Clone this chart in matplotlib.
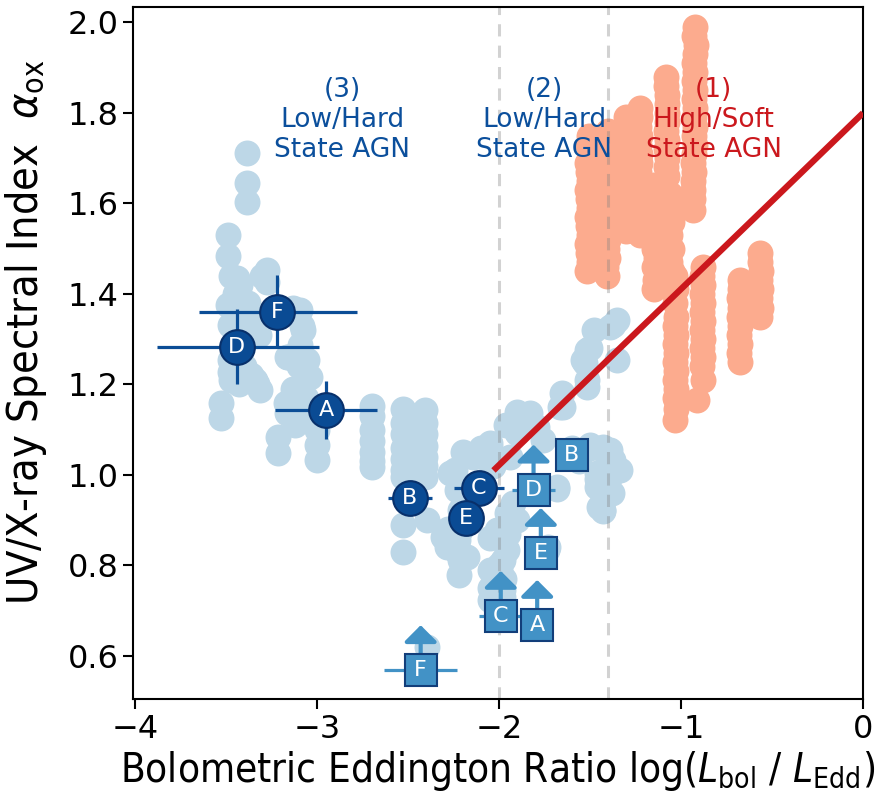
import matplotlib
matplotlib.use('Agg')
import matplotlib.pyplot as plt

plt.rcParams['font.family'] = ['DejaVu Sans']
plt.rcParams['mathtext.fontset'] = 'custom'
plt.rcParams['mathtext.rm'] = 'DejaVu Sans:stretch=condensed'
plt.rcParams['mathtext.it'] = 'DejaVu Sans:italic:stretch=condensed'

# low/hard state AGN sample (light blue)
low_x = [-3.385, -3.385, -3.385, -3.489, -3.489, -3.440, -3.440, -3.275, -3.275,
         -3.489, -3.451, -3.478, -3.434, -3.467, -3.423, -3.478, -3.434, -3.478,
         -3.313, -3.341, -3.093, -3.077, -3.093, -3.165, -3.055, -3.038, -3.110,
         -3.165, -3.527, -3.527, -3.214, -3.214, -3.000, -3.000, -3.000,
         -3.470, -3.420, -3.450, -3.380, -3.360, -3.320, -3.400, -3.450, -3.400,
         -3.360, -3.330, -3.430, -3.470, -3.300, -3.130, -3.080, -3.160, -3.100,
         -3.070, -3.130, -3.060, -3.170, -3.120, -3.040,
         -2.698, -2.698, -2.698, -2.698, -2.698, -2.698, -2.698,
         -2.527, -2.527, -2.527, -2.527, -2.527, -2.527, -2.527,
         -2.407, -2.407, -2.407, -2.407, -2.407, -2.407, -2.407,
         -2.269, -2.527, -2.527, -2.396, -2.308, -2.242, -2.231, -2.214, -2.225,
         -2.214, -2.049, -2.143, -1.978, -1.978, -2.049, -2.176, -2.286,
         -2.280, -2.220, -2.200, -2.100, -2.030, -2.230, -2.210,
         -2.050, -1.950, -2.000, -1.970, -2.030, -2.050, -1.980,
         -1.374, -1.516, -1.527, -1.352, -1.516, -1.654, -1.665, -1.830, -1.885,
         -1.901, -1.791, -1.758, -2.049, -2.088, -1.940, -1.429, -1.374, -1.462,
         -1.374, -1.462, -1.429, -1.429, -1.681, -1.923, -1.956, -1.390, -1.352,
         -1.538, -1.516, -1.648, -2.011, -1.956, -1.995, -1.978, -1.901, -1.736,
         -2.396, -1.500, -1.390, -1.335, -2.049,
         -1.480, -1.500, -1.960, -1.900, -1.500, -1.420, -1.370, -1.460, -1.380,
         -1.430, -1.450, -1.680, -1.730, -1.600, -1.560]
low_y = [1.712, 1.646, 1.604, 1.531, 1.485, 1.436, 1.409, 1.454, 1.427,
         1.376, 1.365, 1.332, 1.321, 1.288, 1.277, 1.255, 1.228, 1.228,
         1.188, 1.210, 1.365, 1.321, 1.288, 1.261, 1.255, 1.217, 1.173,
         1.138, 1.159, 1.126, 1.084, 1.049, 1.100, 1.067, 1.033,
         1.440, 1.420, 1.400, 1.380, 1.340, 1.310, 1.300, 1.250, 1.240,
         1.220, 1.200, 1.200, 1.210, 1.440, 1.370, 1.330, 1.260, 1.240,
         1.210, 1.190, 1.170, 1.160, 1.110, 1.140,
         1.153, 1.130, 1.100, 1.075, 1.050, 1.030, 1.018,
         1.146, 1.115, 1.090, 1.060, 1.035, 1.010, 0.996,
         1.143, 1.115, 1.090, 1.065, 1.040, 1.020, 0.996,
         1.005, 0.889, 0.829, 0.900, 0.863, 1.011, 0.967, 0.923, 0.857,
         0.812, 1.062, 1.040, 0.863, 0.812, 0.790, 0.819, 0.841,
         0.880, 0.780, 1.050, 1.060, 1.020, 0.830, 0.880,
         0.860, 0.870, 0.800, 0.770, 0.740, 0.750, 0.730,
         1.332, 1.277, 1.248, 1.255, 1.210, 1.182, 1.151, 1.138, 1.122,
         1.093, 1.107, 1.078, 1.071, 1.040, 1.040, 1.062, 1.033, 1.005,
         1.005, 0.974, 0.945, 0.923, 0.974, 0.938, 0.916, 1.328, 1.343,
         1.255, 1.195, 1.151, 0.879, 0.834, 0.790, 0.746, 0.901, 0.834,
         0.620, 1.067, 1.056, 1.011, 0.724,
         1.320, 1.280, 1.110, 1.140, 1.060, 1.050, 1.020, 0.990, 0.960,
         0.920, 0.930, 0.970, 0.840, 1.060, 1.030]

# high/soft state AGN sample (salmon), one column per source
high_x = ([-0.925, -0.930, -0.920, -0.925, -0.930, -0.925, -0.930, -0.925, -0.930,
           -0.925, -0.930, -0.925, -0.930, -0.925, -0.930, -0.935, -0.930, -0.935,
           -0.935, -0.935, -0.935]
          + [-1.080, -1.080, -1.077, -1.077, -1.075, -1.077, -1.080, -1.077, -1.080,
             -1.077, -1.080, -1.077]
          + [-1.225, -1.225, -1.230, -1.225, -1.230, -1.225, -1.225, -1.230, -1.225,
             -1.225, -1.230, -1.225, -1.225, -1.230, -1.225]
          + [-1.300, -1.310, -1.300, -1.310, -1.300, -1.305, -1.300, -1.310, -1.300,
             -1.305, -1.300, -1.300, -1.305, -1.300]
          + [-1.150, -1.140, -1.150, -1.140, -1.150, -1.145, -1.150, -1.140, -1.150,
             -1.145, -1.150]
          + [-1.400, -1.410, -1.400, -1.410, -1.400, -1.405, -1.400, -1.410, -1.400,
             -1.405, -1.400, -1.410, -1.400, -1.405, -1.400, -1.410, -1.405]
          + [-1.505, -1.510, -1.500, -1.515, -1.510, -1.505, -1.515, -1.510, -1.505,
             -1.515, -1.510, -1.505, -1.515, -1.510, -1.505, -1.515]
          + [-1.060, -1.060, -1.050, -1.060, -1.050, -1.060, -1.050, -1.060, -1.050]
          + [-1.033, -1.030, -1.035, -1.030, -1.035, -1.030, -1.035, -1.030, -1.035,
             -1.030, -1.035, -1.030, -1.035, -1.030, -1.033]
          + [-0.880, -0.885, -0.880, -0.885, -0.880, -0.885, -0.880, -0.885, -0.880,
             -0.885, -0.880, -0.885, -0.880, -0.910]
          + [-0.676, -0.676, -0.680, -0.676, -0.680, -0.676, -0.680, -0.676, -0.680,
             -0.676]
          + [-0.566, -0.566, -0.560, -0.566, -0.560, -0.566, -0.560, -0.566])
high_y = ([1.990, 1.970, 1.950, 1.930, 1.910, 1.890, 1.870, 1.850, 1.830,
           1.810, 1.790, 1.770, 1.750, 1.730, 1.710, 1.690, 1.670, 1.650,
           1.630, 1.610, 1.585]
          + [1.880, 1.860, 1.840, 1.820, 1.800, 1.780, 1.760, 1.740, 1.720,
             1.700, 1.680, 1.660]
          + [1.810, 1.790, 1.770, 1.750, 1.730, 1.710, 1.690, 1.670, 1.650,
             1.630, 1.610, 1.590, 1.570, 1.550, 1.530]
          + [1.790, 1.770, 1.750, 1.730, 1.710, 1.690, 1.670, 1.650, 1.630,
             1.610, 1.590, 1.570, 1.550, 1.540]
          + [1.640, 1.610, 1.580, 1.560, 1.540, 1.520, 1.500, 1.480, 1.460,
             1.430, 1.410]
          + [1.760, 1.740, 1.720, 1.700, 1.680, 1.660, 1.640, 1.620, 1.600,
             1.580, 1.560, 1.540, 1.520, 1.500, 1.480, 1.460, 1.440]
          + [1.750, 1.730, 1.710, 1.690, 1.670, 1.650, 1.630, 1.610, 1.590,
             1.570, 1.550, 1.530, 1.510, 1.490, 1.470, 1.450]
          + [1.620, 1.590, 1.560, 1.530, 1.500, 1.470, 1.450, 1.430, 1.410]
          + [1.440, 1.410, 1.380, 1.350, 1.330, 1.310, 1.290, 1.270, 1.250,
             1.230, 1.210, 1.190, 1.170, 1.145, 1.122]
          + [1.460, 1.440, 1.420, 1.400, 1.380, 1.360, 1.340, 1.320, 1.300,
             1.280, 1.260, 1.240, 1.210, 1.166]
          + [1.430, 1.410, 1.390, 1.370, 1.350, 1.330, 1.310, 1.290, 1.270,
             1.250]
          + [1.490, 1.470, 1.450, 1.430, 1.410, 1.390, 1.370, 1.350])

# high/soft relation
rel_x = [-2.03, 0.0]
rel_y = [1.01, 1.80]

# state boundaries
bound_x = [-2.0, -1.4]

# circled sources with error bars
circ_labels = ['A', 'B', 'C', 'D', 'E', 'F']
circ_x = [-2.95, -2.49, -2.11, -3.44, -2.18, -3.22]
circ_y = [1.144, 0.950, 0.972, 1.283, 0.904, 1.361]
circ_xlo = [0.28, 0.12, 0.135, 0.44, 0.0, 0.43]
circ_xhi = [0.28, 0.12, 0.135, 0.45, 0.0, 0.44]
circ_yerr = [0.064, 0.0, 0.0, 0.083, 0.0, 0.08]

# squared sources (lower limits)
sq_labels = ['A', 'B', 'C', 'D', 'E', 'F']
sq_x = [-1.79, -1.60, -1.99, -1.81, -1.77, -2.43]
sq_y = [0.668, 1.044, 0.688, 0.967, 0.827, 0.568]
sq_xerr = [0.0, 0.0, 0.12, 0.12, 0.0, 0.20]
sq_lowlim = [True, False, True, True, True, True]

fig = plt.figure(figsize=(8.78, 7.97), dpi=100)
ax = fig.add_axes([0.1515, 0.123, 0.8315, 0.8687])

ax.plot(low_x, low_y, 'o', ms=18.7, color='#bdd7e7', mec='none', zorder=1)
ax.plot(high_x, high_y, 'o', ms=18.7, color='#fcab8e', mec='none', zorder=1.5)

for bx in bound_x:
    ax.axvline(bx, color='grey', alpha=0.35, lw=2.2, ls=(0, (4, 3)), zorder=2)

ax.plot(rel_x, rel_y, color='#cb181d', lw=4.5, solid_capstyle='butt', zorder=3)

ax.errorbar(circ_x, circ_y, xerr=[circ_xlo, circ_xhi], yerr=circ_yerr, fmt='o',
            ms=25, color='#0b4d96', mfc='#0a4b94', mec='#08306b', mew=1.5,
            elinewidth=2.3, capsize=0, zorder=4)
for lab, x, y in zip(circ_labels, circ_x, circ_y):
    ax.text(x, y, lab, color='white', fontsize=16, ha='center', va='center',
            zorder=6)

for x, y, lim in zip(sq_x, sq_y, sq_lowlim):
    if lim:
        ax.annotate('', xy=(x, y + 0.1), xytext=(x, y),
                    arrowprops=dict(arrowstyle='-|>,head_width=0.5,head_length=0.5',
                                    mutation_scale=20, lw=3, color='#4292c6',
                                    shrinkA=0, shrinkB=0), zorder=4)
ax.errorbar(sq_x, sq_y, xerr=sq_xerr, fmt='s', ms=23, color='#4292c6',
            mfc='#4292c6', mec='#123e7a', mew=1.5, elinewidth=2.3, capsize=0,
            zorder=5)
for lab, x, y in zip(sq_labels, sq_x, sq_y):
    ax.text(x, y, lab, color='white', fontsize=16, ha='center', va='center',
            zorder=6)

ax.text(-2.86, 1.785, '(3)\nLow/Hard\nState AGN', color='#0b4f9c', fontsize=19,
        ha='center', va='center', zorder=6)
ax.text(-1.75, 1.785, '(2)\nLow/Hard\nState AGN', color='#0b4f9c', fontsize=19,
        ha='center', va='center', zorder=6)
ax.text(-0.82, 1.785, '(1)\nHigh/Soft\nState AGN', color='#cb181d', fontsize=19,
        ha='center', va='center', zorder=6)

ax.set_xlim(-4.01, 0.0)
ax.set_ylim(0.505, 2.035)
ax.set_xticks([-4, -3, -2, -1, 0])
ax.set_yticks([0.6, 0.8, 1.0, 1.2, 1.4, 1.6, 1.8, 2.0])
ax.tick_params(labelsize=23, length=7, width=1.5)
for sp in ax.spines.values():
    sp.set_linewidth(1.5)

ax.set_xlabel(r'Bolometric Eddington Ratio log($L_{\rm bol}$ / $L_{\rm Edd}$)',
              fontsize=29, fontstretch='condensed', labelpad=3)
ax.set_ylabel(r'UV/X-ray Spectral Index  $\alpha_{\rm ox}$',
              fontsize=31, fontstretch='condensed', labelpad=6)
ax.yaxis.set_label_coords(-0.115, 0.53)

fig.savefig('out.png', dpi=100)
